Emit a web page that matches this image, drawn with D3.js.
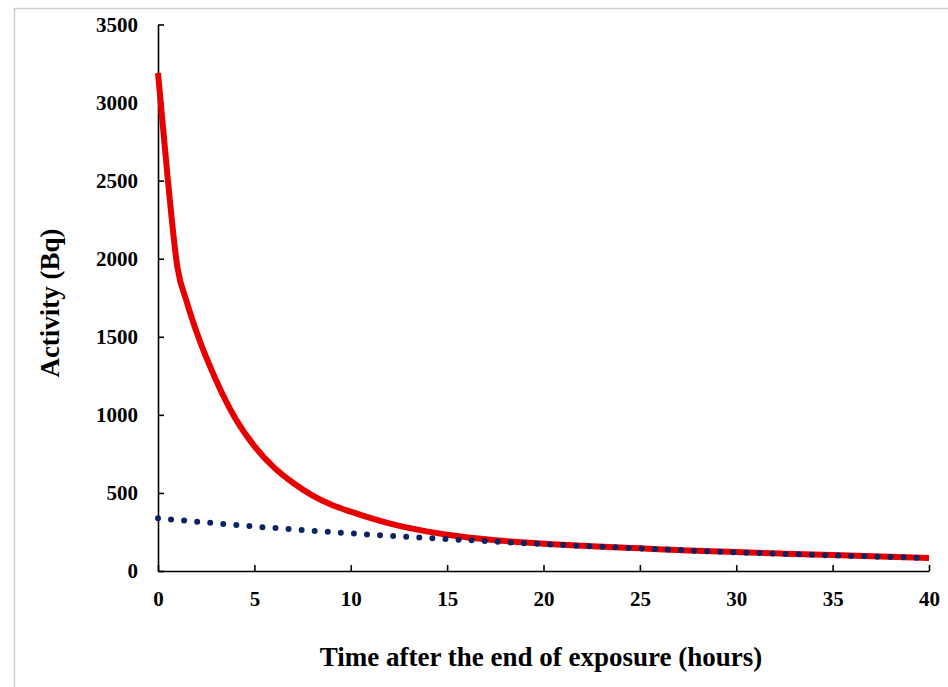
<!DOCTYPE html>
<html>
<head>
<meta charset="utf-8">
<script src="https://cdn.jsdelivr.net/npm/d3@7"></script>
<style>
  body { margin: 0; background: #fff; }
  svg text { font-family: "Liberation Serif", "Times New Roman", serif; font-weight: bold; fill: #000; }
  .axis path, .axis line { stroke: #000; stroke-width: 1.6; }
</style>
</head>
<body>
<div id="graph"></div>
<script>
(function(){
"use strict";

// hours after end of exposure
var hours = [0, 0.5, 1, 1.5, 2, 3, 4, 5, 6, 7, 8, 9, 10, 11, 12, 13, 14, 15, 17.5, 20, 22.5, 25, 27.5, 30, 32.5, 35, 37.5, 40];
// total activity (red solid)
var totalActivity = [3190, 2520, 1950, 1720, 1530, 1225, 980, 800, 665, 565, 485, 425, 380, 340, 305, 276, 252, 232, 197, 175, 158, 145, 132, 121, 111, 102, 93, 84];
// long-lived component (blue dotted)
var dotHours = [0, 5, 10, 15, 20, 25, 30, 35, 40];
var dotActivity = [338, 285, 241, 205, 172, 145, 120, 100, 83];

var xTicks = [0, 5, 10, 15, 20, 25, 30, 35, 40];
var yTicks = [0, 500, 1000, 1500, 2000, 2500, 3000, 3500];

var width = 948, height = 687;

var svg = d3.select("#graph")
  .append("svg")
    .attr("width", width)
    .attr("height", height);

// frame
svg.append("path")
  .attr("d", "M14.5,687 L14.5,8.5 L948,8.5")
  .attr("fill", "none")
  .attr("stroke", "#cfcfcf")
  .attr("stroke-width", 1.5);

var x = d3.scaleLinear().domain([0, 40]).range([158, 929]);
var y = d3.scaleLinear().domain([0, 3500]).range([571, 24.5]);

var xAxis = d3.axisBottom(x)
  .tickValues(xTicks)
  .tickFormat(d3.format("d"))
  .tickSizeInner(-6)
  .tickSizeOuter(0)
  .tickPadding(20);

var yAxis = d3.axisLeft(y)
  .tickValues(yTicks)
  .tickFormat(d3.format("d"))
  .tickSizeInner(-6)
  .tickSizeOuter(0)
  .tickPadding(20);

svg.append("g")
  .attr("class", "axis")
  .attr("transform", "translate(0," + y(0) + ")")
  .call(xAxis)
  .selectAll("text")
    .style("font-size", "21px");

svg.append("g")
  .attr("class", "axis")
  .attr("transform", "translate(" + x(0) + ",0)")
  .call(yAxis)
  .selectAll("text")
    .style("font-size", "21px");

svg.selectAll(".axis .domain").attr("stroke-width", 1.8);

var line = d3.line()
  .x(function(d){ return x(d[0]); })
  .y(function(d){ return y(d[1]); })
  .curve(d3.curveMonotoneX);

svg.append("path")
  .datum(d3.zip(hours, totalActivity))
  .attr("d", line)
  .attr("fill", "none")
  .attr("stroke", "#e80000")
  .attr("stroke-width", 6)
  .attr("stroke-linejoin", "round");

svg.append("path")
  .datum(d3.zip(dotHours, dotActivity))
  .attr("d", line)
  .attr("fill", "none")
  .attr("stroke", "#0a2463")
  .attr("stroke-width", 6)
  .attr("stroke-linecap", "round")
  .attr("stroke-dasharray", "0,13.1");

// axis titles
svg.append("text")
  .attr("x", 541)
  .attr("y", 666)
  .attr("text-anchor", "middle")
  .style("font-size", "27px")
  .text("Time after the end of exposure (hours)");

svg.append("text")
  .attr("transform", "translate(59,303) rotate(-90)")
  .attr("text-anchor", "middle")
  .style("font-size", "27px")
  .text("Activity (Bq)");

})();
</script>
</body>
</html>
